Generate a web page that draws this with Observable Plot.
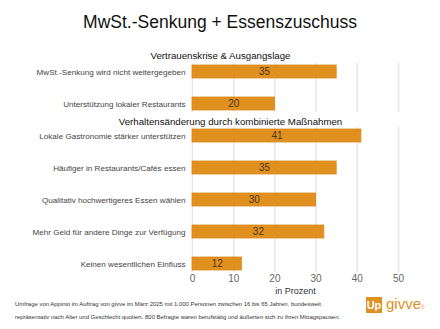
<!DOCTYPE html>
<html><head><meta charset="utf-8">
<script src="https://cdn.jsdelivr.net/npm/d3@7"></script>
<script src="https://cdn.jsdelivr.net/npm/@observablehq/plot@0.6"></script>
<style>
body{margin:0;background:#fff;font-family:"Liberation Sans",Arial,sans-serif;width:440px;height:329px;overflow:hidden;position:relative}
#title{height:44px;line-height:44px;text-align:center;font-size:17.5px;color:#111}
#foot{position:absolute;left:15px;top:298px;font-size:5.95px;line-height:12.5px;color:#333;white-space:nowrap}
#logo{position:absolute;left:366px;top:297px;display:flex;align-items:center}
#logo .up{background:#e0901f;color:#fff;font-weight:bold;font-size:11px;width:16px;height:16px;line-height:16px;text-align:center}
#logo .gv{color:#e0901f;font-size:15px;margin-left:4px;line-height:16px;position:relative;top:-1px}
#logo sup{font-size:5px;vertical-align:top;position:relative;top:3px}
</style></head><body>
<div id="title">MwSt.-Senkung + Essenszuschuss</div>
<div id="chart"></div>
<div id="foot">Umfrage von Appinio im Auftrag von givve im März 2025 mit 1.000 Personen zwischen 16 bis 65 Jahren, bundesweit<br>repräsentativ nach Alter und Geschlecht quotiert. 800 Befragte waren berufstätig und äußerten sich zu ihren Mittagspausen.</div>
<div id="logo"><div class="up">Up</div><div class="gv">givve<sup>®</sup></div></div>
<script>
const categories = [
  "MwSt.-Senkung wird nicht weitergegeben",
  "Unterstützung lokaler Restaurants",
  "Lokale Gastronomie stärker unterstützen",
  "Häufiger in Restaurants/Cafés essen",
  "Qualitativ hochwertigeres Essen wählen",
  "Mehr Geld für andere Dinge zur Verfügung",
  "Keinen wesentlichen Einfluss"
];
const values = [35, 20, 41, 35, 30, 32, 12];
const sectionTitles = ["Vertrauenskrise & Ausgangslage", "Verhaltensänderung durch kombinierte Maßnahmen"];
const sectionStart = [categories[0], categories[2]];
const sectionEnd = [categories[1], categories[6]];
const xTicks = [0, 10, 20, 30, 40, 50];
const xLabel = "in Prozent";

const data = categories.map((c, i) => ({cat: c, value: values[i]}));
const grid = [];
for (let s = 0; s < sectionTitles.length; s++) for (const t of xTicks) grid.push({x: t, y1: sectionStart[s], y2: sectionEnd[s]});

const chart = Plot.plot({
  width: 440, height: 251,
  marginLeft: 192, marginRight: 42, marginTop: 11, marginBottom: 25,
  style: {fontFamily: '"Liberation Sans", Arial, sans-serif', background: "#fff"},
  x: {domain: [0, 50]},
  y: {domain: categories, range: [11.4, 235.4], paddingInner: 0.6, paddingOuter: 0.3},
  marks: [
    Plot.ruleX(grid, {x: "x", y1: "y1", y2: "y2", stroke: "#e6e6e6", strokeWidth: 1.5, insetTop: -2, insetBottom: -2}),
    Plot.barX(data, {x: "value", y: "cat", fill: "#e0901f", stroke: "#d88a1c", strokeWidth: 0.8}),
    Plot.text(data, {x: d => d.value / 2, y: "cat", text: d => String(d.value), fill: "#4a3618", fontSize: 10}),
    Plot.text([sectionTitles[0]], {x: 0, y: [sectionStart[0]], text: d => d, dx: 28, dy: -16, fontSize: 9.7, fill: "#111", textAnchor: "middle"}),
    Plot.text([sectionTitles[1]], {x: 0, y: [sectionStart[1]], text: d => d, dx: 38, dy: -14.5, fontSize: 9.7, fill: "#111", textAnchor: "middle"}),
    Plot.axisY({tickSize: 0, tickPadding: 7, fontSize: 8.1, color: "#444", label: null}),
    Plot.axisX(xTicks, {tickSize: 0, tickPadding: 4, fontSize: 10, color: "#666", label: null}),
    Plot.text([xLabel], {frameAnchor: "bottom", lineAnchor: "middle", dy: 21, text: d => d, fontSize: 9, fill: "#333"})
  ]
});
document.getElementById("chart").append(chart);
</script>
</body></html>
